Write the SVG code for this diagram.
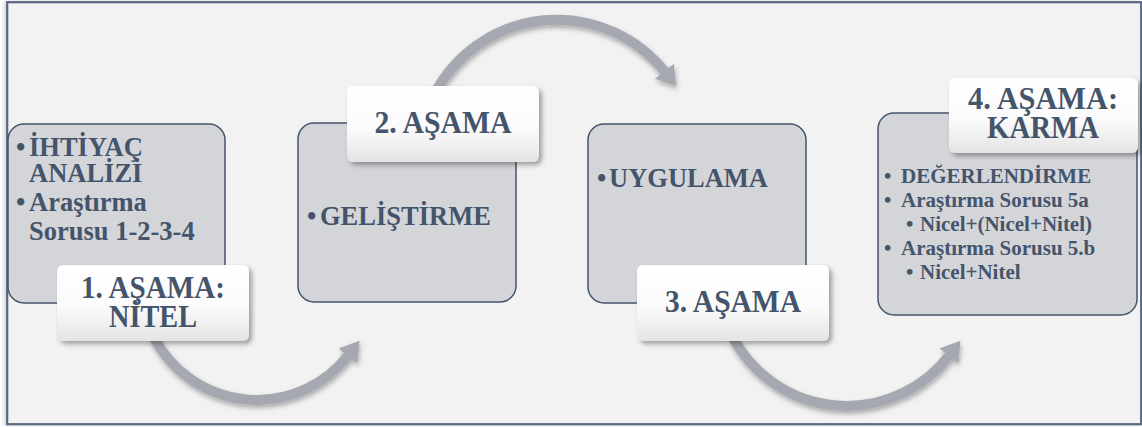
<svg xmlns="http://www.w3.org/2000/svg" width="1142" height="427" viewBox="0 0 1142 427">
  <defs>
    <style>
      .frame { fill: #f2f2f2; stroke: #586780; stroke-width: 2.2; }
      .box { fill: #d4d5d9; stroke: #44546a; stroke-width: 1.5; }
      .tag { fill: url(#tagGrad); }
      .tagtext { font-family: "Liberation Serif", "Times New Roman", serif; font-weight: bold; font-size: 32px; fill: #44546a; text-anchor: middle; }
      .body { font-family: "Liberation Serif", "Times New Roman", serif; font-weight: bold; font-size: 26.5px; fill: #44546a; }
      .small { font-family: "Liberation Serif", "Times New Roman", serif; font-weight: bold; font-size: 21px; fill: #44546a; }
      .arc { fill: none; stroke: #a5a8b0; stroke-width: 10; }
    </style>
    <linearGradient id="tagGrad" x1="0" y1="0" x2="0" y2="1">
      <stop offset="0" stop-color="#ffffff"/>
      <stop offset="0.55" stop-color="#fbfbfb"/>
      <stop offset="1" stop-color="#e4e4e4"/>
    </linearGradient>
    <filter id="tagShadow" x="-10%" y="-20%" width="125%" height="150%">
      <feDropShadow dx="3" dy="3" stdDeviation="2.5" flood-color="#000" flood-opacity="0.35"/>
    </filter>
    <filter id="arcShadow" x="-20%" y="-20%" width="140%" height="150%">
      <feDropShadow dx="1" dy="3" stdDeviation="2.5" flood-color="#000" flood-opacity="0.3"/>
    </filter>
    <filter id="frameShadow" x="-5%" y="-5%" width="110%" height="110%">
      <feDropShadow dx="-2" dy="0" stdDeviation="2" flood-color="#000" flood-opacity="0.18"/>
    </filter>
    <marker id="head" markerUnits="userSpaceOnUse" markerWidth="26" markerHeight="28" refX="1" refY="12" orient="auto">
      <path d="M0,0 L19,12 L0,24 Z" fill="#a5a8b0"/>
    </marker>
  </defs>

  <rect x="0" y="0" width="1142" height="427" fill="#ffffff"/>
  <rect class="frame" x="7.2" y="2.2" width="1134" height="422" filter="url(#frameShadow)"/>

  <!-- curved arrows between stages -->
  <g id="connectors" filter="url(#arcShadow)">
    <path class="arc" d="M153.6,336.7 A116,116 0 0 0 348.5,355" marker-end="url(#head)"/>
    <path class="arc" d="M435,93 A138,138 0 0 1 665,72" marker-end="url(#head)"/>
    <path class="arc" d="M733,337.6 A129,129 0 0 0 949.5,355" marker-end="url(#head)"/>
  </g>

  <!-- stage 1 -->
  <g id="stage1">
    <rect class="box" x="8" y="124" width="217" height="179" rx="16"/>
    <text class="body" x="16" y="156">•</text>
    <text class="body" x="29" y="156">İHTİYAÇ</text>
    <text class="body" x="29" y="182">ANALİZİ</text>
    <text class="body" x="16" y="211">•</text>
    <text class="body" x="29" y="211">Araştırma</text>
    <text class="body" x="29" y="240">Sorusu 1-2-3-4</text>
    <rect class="tag" x="57" y="265" width="192" height="76" rx="6" filter="url(#tagShadow)"/>
    <text class="tagtext" x="153" y="298" textLength="144" lengthAdjust="spacingAndGlyphs">1. AŞAMA:</text>
    <text class="tagtext" x="153" y="327" textLength="88" lengthAdjust="spacingAndGlyphs">NİTEL</text>
  </g>

  <!-- stage 2 -->
  <g id="stage2">
    <rect class="box" x="298" y="123" width="218" height="179" rx="16"/>
    <text class="body" x="307" y="225">•</text>
    <text class="body" x="320" y="225">GELİŞTİRME</text>
    <rect class="tag" x="347" y="86" width="192" height="76" rx="6" filter="url(#tagShadow)"/>
    <text class="tagtext" x="443" y="133" textLength="137" lengthAdjust="spacingAndGlyphs">2. AŞAMA</text>
  </g>

  <!-- stage 3 -->
  <g id="stage3">
    <rect class="box" x="588" y="124" width="218" height="179" rx="16"/>
    <text class="body" x="597" y="187">•</text>
    <text class="body" x="609" y="187">UYGULAMA</text>
    <rect class="tag" x="637" y="265" width="192" height="76" rx="6" filter="url(#tagShadow)"/>
    <text class="tagtext" x="733" y="312" textLength="136" lengthAdjust="spacingAndGlyphs">3. AŞAMA</text>
  </g>

  <!-- stage 4 -->
  <g id="stage4">
    <rect class="box" x="878" y="113" width="259" height="202" rx="16"/>
    <text class="small" x="884" y="183">•</text>
    <text class="small" x="901" y="183">DEĞERLENDİRME</text>
    <text class="small" x="884" y="207">•</text>
    <text class="small" x="901" y="207">Araştırma Sorusu 5a</text>
    <text class="small" x="906" y="231">•</text>
    <text class="small" x="920" y="231">Nicel+(Nicel+Nitel)</text>
    <text class="small" x="884" y="255">•</text>
    <text class="small" x="901" y="255">Araştırma Sorusu 5.b</text>
    <text class="small" x="906" y="279">•</text>
    <text class="small" x="920" y="279">Nicel+Nitel</text>
    <rect class="tag" x="949" y="78" width="189" height="75" rx="6" filter="url(#tagShadow)"/>
    <text class="tagtext" x="1043" y="109" textLength="150" lengthAdjust="spacingAndGlyphs">4. AŞAMA:</text>
    <text class="tagtext" x="1043" y="138" textLength="112" lengthAdjust="spacingAndGlyphs">KARMA</text>
  </g>
</svg>
